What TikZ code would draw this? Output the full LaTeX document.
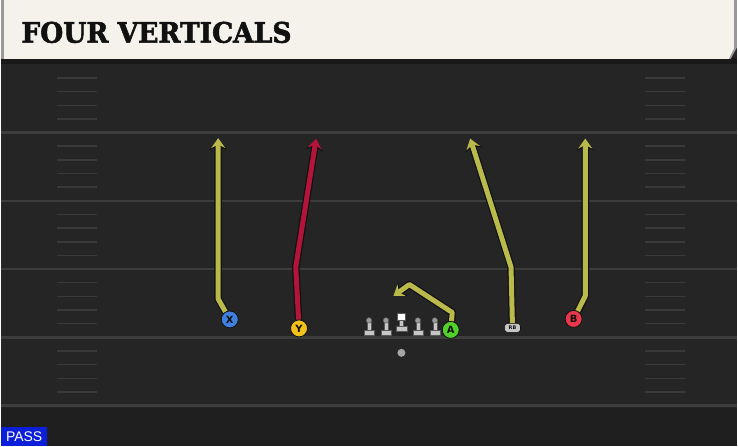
\documentclass[tikz,border=0pt]{standalone}
\usepackage{fontspec}
\setmainfont{Liberation Sans}
\newfontfamily\titlefont{DejaVu Serif}[BoldFeatures={FakeBold=2}]
\newfontfamily\markfont{DejaVu Sans}
\usetikzlibrary{arrows.meta}
\definecolor{fieldbg}{HTML}{252525}
\definecolor{fieldlow}{HTML}{1F1F1F}
\definecolor{yardcol}{HTML}{3D3D3D}
\definecolor{hashcol}{HTML}{393939}
\definecolor{headcream}{HTML}{F4F2EB}
\definecolor{routeyel}{HTML}{B9B94C}
\definecolor{routered}{HTML}{B3143A}
\definecolor{outl}{HTML}{111111}
\definecolor{plblue}{HTML}{3F7FE0}
\definecolor{plyellow}{HTML}{F2C21B}
\definecolor{plgreen}{HTML}{4FD12A}
\definecolor{plred}{HTML}{E8374A}
\definecolor{linegray}{HTML}{C6C6C6}
\definecolor{passblue}{HTML}{0B1FD8}
\tikzset{
  player/.style={circle,fill=#1,draw=outl,line width=0.8pt,minimum size=17pt,inner sep=0pt,
    font=\markfont\bfseries\fontsize{10}{10}\selectfont,text=outl},
  routeunder/.style={draw=outl,line width=7.5pt,line join=round,
    -{Stealth[length=12pt,width=17pt,inset=4pt]}},
  routetop/.style={draw=#1,line width=5pt,line join=round,
    -{Stealth[length=10pt,width=14pt,inset=3.5pt,color=#1]}},
  lineman/.style={fill=linegray,draw=outl!70,line width=0.4pt}
}
\begin{document}
\begin{tikzpicture}[x=1pt,y=-1pt]
  % field
  \fill[fieldbg] (0,0) rectangle (738,448);
  \fill[fieldlow] (0,409) rectangle (738,448);
  \foreach \k in {5,10,15,20,25}
    \draw[yardcol,line width=2.5pt] (0,64.5+13.7*\k) -- (738,64.5+13.7*\k);
  \foreach \k in {1,2,3,4,6,7,8,9,11,12,13,14,16,17,18,19,21,22,23,24} {
    \draw[hashcol,line width=1.5pt] (56,64.5+13.7*\k) -- (96,64.5+13.7*\k);
    \draw[hashcol,line width=1.5pt] (646,64.5+13.7*\k) -- (686,64.5+13.7*\k);
  }
  % header
  \fill[black!90] (0,58) rectangle (738,64);
  \fill[black!40] (0,0) -- (738,0) -- (738,48) -- (732,59) -- (0,59) -- cycle;
  \fill[headcream] (3,0) -- (735,0) -- (735,49) -- (730,59) -- (3,59) -- cycle;
  \node[anchor=west,inner sep=0pt,text=outl] (title) at (20,32.5)
    {\resizebox{271pt}{21pt}{\titlefont\bfseries FOUR VERTICALS}};
  % players
  \node[player=plblue] (X) at (229.3,320.5) {X};
  \node[player=plyellow] (Y) at (298.8,329.5) {Y};
  \node[player=plgreen] (A) at (451,331) {A};
  \node[player=plred] (B) at (574.3,320) {B};
  \node[rounded corners=3pt,fill=linegray,draw=outl,line width=0.6pt,minimum width=16pt,minimum height=9pt,
    inner sep=0pt,font=\markfont\bfseries\fontsize{5}{5}\selectfont,text=outl] (RB) at (513,329) {RB};
  % offensive line
  \foreach \lx in {369,386,418,435} {
    \draw[lineman] (\lx-5,331.5) rectangle (\lx+5,336);
    \draw[lineman] (\lx-2,323.5) rectangle (\lx+2,331.5);
    \draw[lineman,fill=gray!80] (\lx,321.5) circle (2.8pt);
  }
  \draw[lineman] (396,327) rectangle (407,332);
  \draw[lineman] (399.7,321.5) rectangle (403.3,327);
  \draw[fill=white,draw=outl!70,line width=0.4pt] (397.7,314) rectangle (405.3,321.5);
  \fill[gray!70] (401.5,354) circle (4pt);
  % routes
  \coordinate (xbend) at (217.7,300);
  \coordinate (xend) at (217.7,138.5);
  \coordinate (ybend) at (295.5,268);
  \coordinate (yend) at (316,139);
  \coordinate (aup) at (452.5,313.5);
  \coordinate (abend) at (409.5,285.5);
  \coordinate (aend) at (393.5,297);
  \coordinate (rbbend) at (511.5,268);
  \coordinate (rbend) at (470.5,139);
  \coordinate (bbend) at (586,297);
  \coordinate (bend) at (586,139);
  \draw[routeunder] (X) -- (xbend) -- (xend);
  \draw[routeunder] (Y) -- (ybend) -- (yend);
  \draw[routeunder] (A) -- (aup) -- (abend) -- (aend);
  \draw[routeunder] (RB) -- (rbbend) -- (rbend);
  \draw[routeunder] (B) -- (bbend) -- (bend);
  \draw[routetop=routeyel] (X) -- (xbend) -- (xend);
  \draw[routetop=routered] (Y) -- (ybend) -- (yend);
  \draw[routetop=routeyel] (A) -- (aup) -- (abend) -- (aend);
  \draw[routetop=routeyel] (RB) -- (rbbend) -- (rbend);
  \draw[routetop=routeyel] (B) -- (bbend) -- (bend);
  % play type
  \fill[passblue] (0,428) rectangle (46,448);
  \node[text=white,font=\fontsize{14}{14}\selectfont,inner sep=0pt] (pass) at (23,438.5) {PASS};
\end{tikzpicture}
\end{document}
